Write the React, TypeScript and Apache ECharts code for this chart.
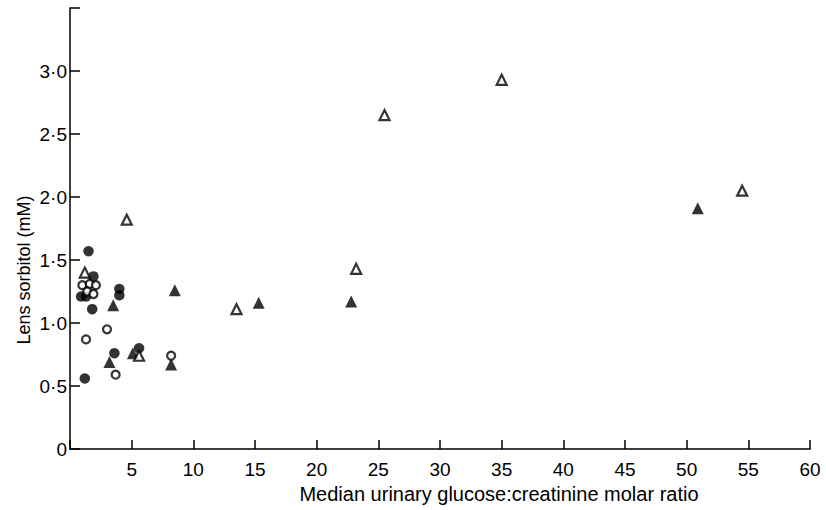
import React, { useEffect, useRef } from "react";
import * as echarts from "echarts";

// x: median urinary glucose:creatinine molar ratio, y: lens sorbitol (mM)
const openCircles: number[][] = [
  [1.0, 1.3], [1.6, 1.31], [2.1, 1.3], [1.4, 1.25], [1.9, 1.23],
  [3.0, 0.95], [1.3, 0.87], [8.2, 0.74], [3.7, 0.59],
];
const filledCircles: number[][] = [
  [1.5, 1.57], [1.9, 1.37], [0.9, 1.21], [1.3, 1.21], [1.8, 1.11],
  [4.0, 1.27], [4.0, 1.22], [3.6, 0.76], [5.6, 0.8], [1.2, 0.56],
];
const openTriangles: number[][] = [
  [1.2, 1.4], [4.6, 1.82], [5.6, 0.74], [13.5, 1.11], [23.2, 1.43],
  [25.5, 2.65], [35.0, 2.93], [54.5, 2.05],
];
const filledTriangles: number[][] = [
  [3.5, 1.14], [3.2, 0.69], [5.1, 0.76], [8.2, 0.67], [8.5, 1.26],
  [15.3, 1.16], [22.8, 1.17], [50.9, 1.91],
];

const xTicks = [5, 10, 15, 20, 25, 30, 35, 40, 45, 50, 55, 60];
const yTickLabels = ["0", "0·5", "1·0", "1·5", "2·0", "2·5", "3·0", ""];

const xName = "Median urinary glucose:creatinine molar ratio";
const yName = "Lens sorbitol (mM)";

const FONT = "'Liberation Sans', Arial, sans-serif";
const INK = "#000";

export default function App() {
  const ref = useRef<HTMLDivElement>(null);
  useEffect(() => {
    if (!ref.current) return;
    const chart = echarts.init(ref.current, undefined, { renderer: "svg" });
    const open = { color: "#fff", borderColor: INK, borderWidth: 2.2 };
    const filled = { color: INK, borderColor: INK, borderWidth: 0 };
    chart.setOption({
      animation: false,
      backgroundColor: "#fff",
      grid: { left: 70, right: 16, top: 8, bottom: 61, containLabel: false },
      xAxis: {
        type: "value",
        min: 0,
        max: 60,
        interval: 5,
        axisLine: { show: true, lineStyle: { color: INK, width: 1.5 } },
        axisTick: { show: true, inside: true, length: 9, lineStyle: { color: INK, width: 1.5 } },
        splitLine: { show: false },
        axisLabel: {
          margin: 11,
          fontFamily: FONT,
          fontSize: 19,
          color: INK,
          formatter: (v: number) => (xTicks.includes(v) ? String(v) : ""),
        },
      },
      yAxis: {
        type: "value",
        min: 0,
        max: 3.5,
        interval: 0.5,
        axisLine: { show: true, lineStyle: { color: INK, width: 1.5 } },
        axisTick: { show: true, inside: true, length: 10, lineStyle: { color: INK, width: 1.5 } },
        splitLine: { show: false },
        axisLabel: {
          margin: 3,
          fontFamily: FONT,
          fontSize: 19,
          color: INK,
          formatter: (v: number) => yTickLabels[Math.round(v / 0.5)] ?? "",
        },
      },
      graphic: [
        {
          type: "text",
          x: 499,
          y: 494,
          style: {
            text: xName,
            fontFamily: FONT,
            fontSize: 20,
            fill: INK,
            textAlign: "center",
            textVerticalAlign: "middle",
          },
        },
        {
          type: "text",
          x: 24,
          y: 270,
          rotation: Math.PI / 2,
          style: {
            text: yName,
            fontFamily: FONT,
            fontSize: 18,
            fill: INK,
            textAlign: "center",
            textVerticalAlign: "middle",
          },
        },
      ],
      series: [
        { name: "filled circle", type: "scatter", symbol: "circle", symbolSize: 10.5, data: filledCircles, itemStyle: filled },
        { name: "filled triangle", type: "scatter", symbol: "triangle", symbolSize: 12, data: filledTriangles, itemStyle: filled },
        { name: "open circle", type: "scatter", symbol: "circle", symbolSize: 8, data: openCircles, itemStyle: open },
        { name: "open triangle", type: "scatter", symbol: "triangle", symbolSize: 10, data: openTriangles, itemStyle: open },
      ],
    });
    return () => chart.dispose();
  }, []);
  return (
    <div
      ref={ref}
      style={{ position: "fixed", left: 0, top: 0, width: 826, height: 510, background: "#fff" }}
    />
  );
}
